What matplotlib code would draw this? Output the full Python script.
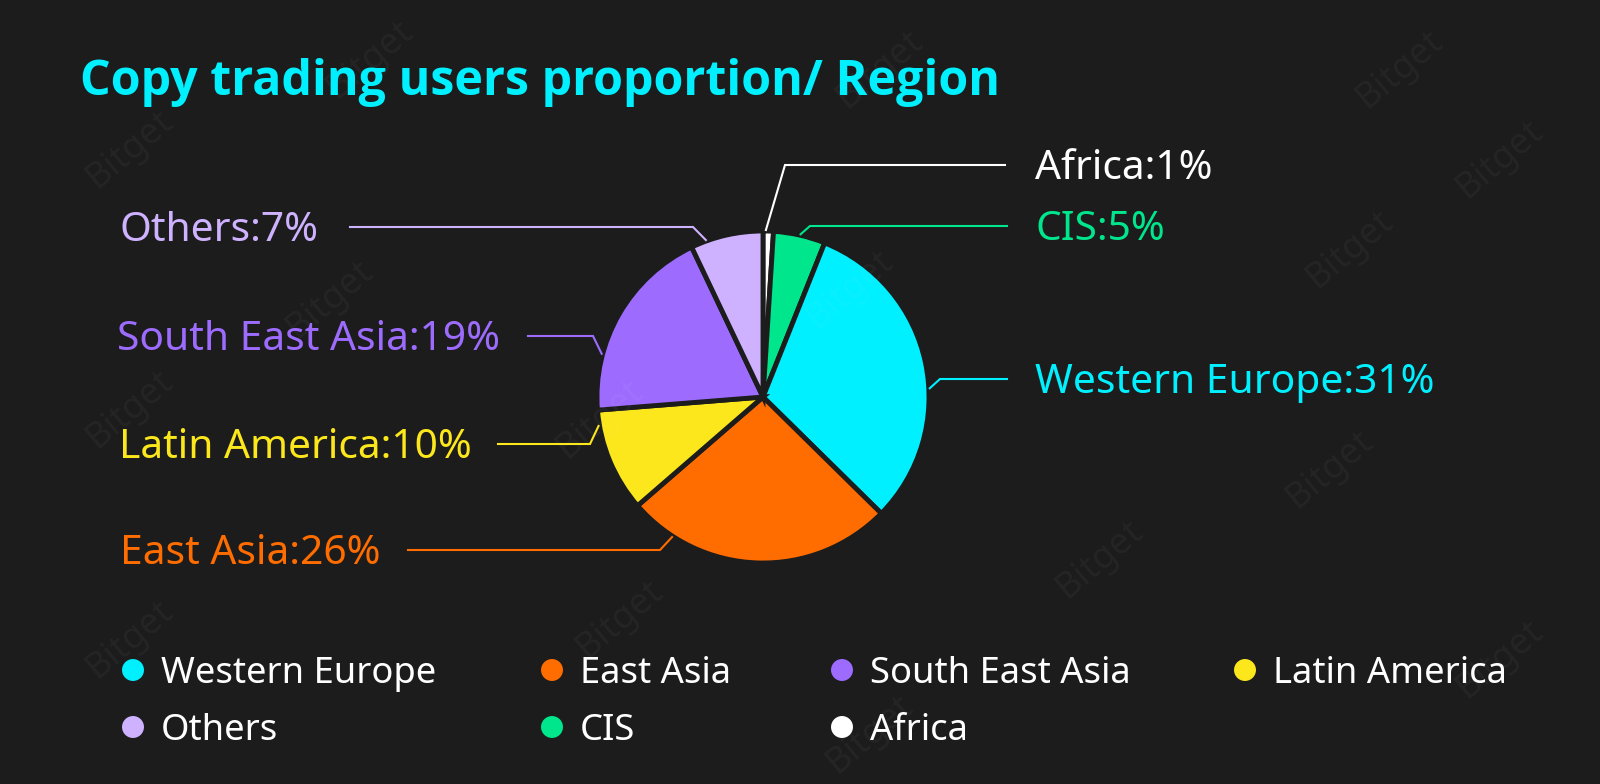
import numpy as np
import matplotlib.pyplot as plt

# data (clockwise from top)
regions = ['Africa', 'CIS', 'Western Europe', 'East Asia', 'Latin America',
           'South East Asia', 'Others']
shares = [1, 5, 31, 26, 10, 19, 7]
colors = ['#ffffff', '#00e68c', '#00f0ff', '#ff6c00', '#fbe71b', '#9d6cff', '#ceb2ff']

legend_order = ['Western Europe', 'East Asia', 'South East Asia', 'Latin America',
                'Others', 'CIS', 'Africa']

bg = '#1c1c1c'
W, H = 1600, 784
plt.rcParams['font.family'] = ['Noto Sans', 'DejaVu Sans']

fig = plt.figure(figsize=(16, 7.84), dpi=100, facecolor=bg)
ax = fig.add_axes([0, 0, 1, 1])
ax.set_facecolor(bg)
ax.set_xlim(0, W)
ax.set_ylim(0, H)
ax.set_aspect('equal')
ax.axis('off')

# faint watermark
for wx, wy in [(370, 60), (130, 150), (880, 70), (1400, 70), (330, 300), (850, 290),
               (1350, 250), (1500, 160), (130, 410), (600, 420), (1330, 470),
               (1100, 560), (620, 620), (130, 640), (1500, 660), (870, 735)]:
    ax.text(wx, H - wy, 'Bitget', rotation=40, fontsize=26, fontweight='bold',
            color='#ffffff', alpha=0.04, ha='center', va='center')

cx, cy, r = 763, H - 397, 166
wedges, _ = ax.pie(shares, colors=colors, startangle=90, counterclock=False,
                   center=(cx, cy), radius=r,
                   wedgeprops=dict(edgecolor=bg, linewidth=3.5))
ax.set_xlim(0, W)
ax.set_ylim(0, H)

# label layout: anchor angle, line y, elbow x, line end x, text x, alignment
layout = {
    'Africa':          (89, 165, 785, 1005, 1035, 'left'),
    'CIS':             (77, 226, 810, 1007, 1035, 'left'),
    'Western Europe':  (3, 379, 940, 1007, 1035, 'left'),
    'East Asia':       (-123, 550, 660, 408, 380, 'right'),
    'Latin America':   (-170, 444, 590, 498, 472, 'right'),
    'South East Asia': (165, 336, 593, 528, 500, 'right'),
    'Others':          (110, 227, 693, 350, 318, 'right'),
}

for name, val, col in zip(regions, shares, colors):
    a, ly, ex, endx, tx, ha = layout[name]
    ang = np.deg2rad(a)
    x0 = cx + (r + 1) * np.cos(ang)
    y0 = cy + (r + 1) * np.sin(ang)
    ax.plot([x0, ex, endx], [y0, H - ly, H - ly], color=col, lw=1.5,
            solid_joinstyle='miter')
    ax.text(tx, H - ly - 14, f'{name}:{val}%', color=col, fontsize=29.3,
            ha=ha, va='baseline')

ax.text(80, H - 78 - 17, 'Copy trading users proportion/ Region', color='#00f0ff',
        fontsize=34.8, fontweight='bold', family=['Open Sans', 'DejaVu Sans'],
        ha='left', va='baseline')

# legend
leg_x = [133, 552, 842, 1245]
leg_y = [670, 727]
col_of = dict(zip(regions, colors))
for i, name in enumerate(legend_order):
    lx = leg_x[i % 4]
    lyy = H - leg_y[i // 4]
    ax.scatter([lx], [lyy], s=250, color=col_of[name], edgecolors='none')
    ax.text(lx + 28, lyy - 13, name, color='white', fontsize=26.2,
            ha='left', va='baseline')

fig.savefig('out.png', dpi=100, facecolor=bg)
